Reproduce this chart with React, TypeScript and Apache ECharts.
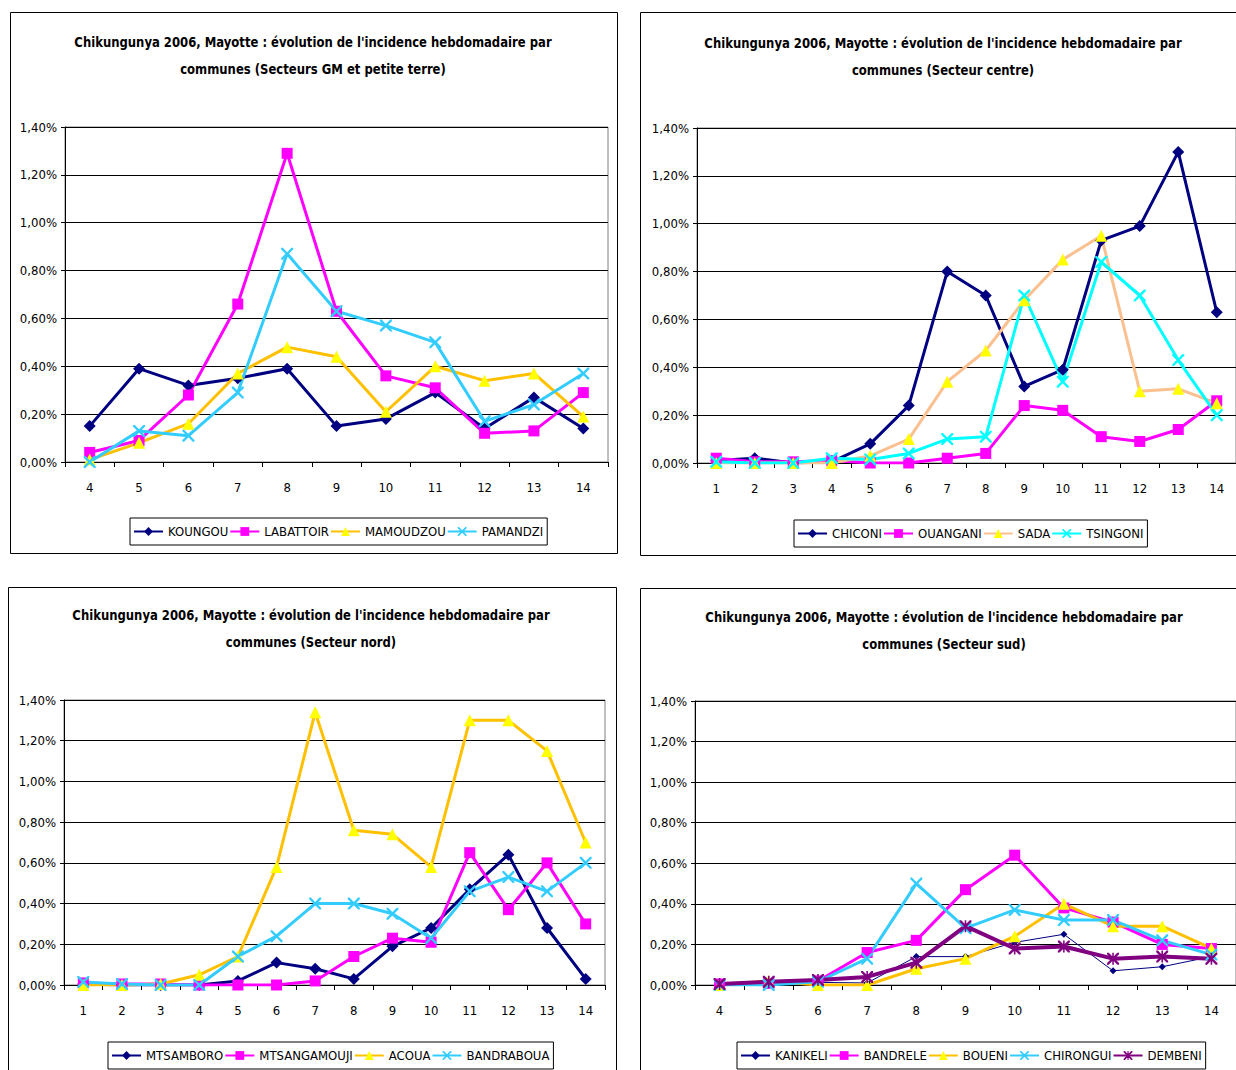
import React, { useEffect, useRef } from 'react';
import * as echarts from 'echarts';

// ---------- categories ----------
const weeksFrom4 = ['4', '5', '6', '7', '8', '9', '10', '11', '12', '13', '14'];
const weeksFrom1 = ['1', '2', '3', '4', '5', '6', '7', '8', '9', '10', '11', '12', '13', '14'];

// ---------- titles ----------
const titleGM = "Chikungunya 2006, Mayotte : évolution de l'incidence hebdomadaire par\ncommunes (Secteurs GM et petite terre)";
const titleCentre = "Chikungunya 2006, Mayotte : évolution de l'incidence hebdomadaire par\ncommunes (Secteur centre)";
const titleNord = "Chikungunya 2006, Mayotte : évolution de l'incidence hebdomadaire par\ncommunes (Secteur nord)";
const titleSud = "Chikungunya 2006, Mayotte : évolution de l'incidence hebdomadaire par\ncommunes (Secteur sud)";

// ---------- values (% incidence) ----------
// Secteurs GM et petite terre (weeks 4-14)
const koungou = [0.15, 0.39, 0.32, 0.35, 0.39, 0.15, 0.18, 0.29, 0.14, 0.27, 0.14];
const labattoir = [0.04, 0.09, 0.28, 0.66, 1.29, 0.63, 0.36, 0.31, 0.12, 0.13, 0.29];
const mamoudzou = [0.01, 0.08, 0.16, 0.37, 0.48, 0.44, 0.21, 0.40, 0.34, 0.37, 0.19];
const pamandzi = [0.0, 0.13, 0.11, 0.29, 0.87, 0.63, 0.57, 0.50, 0.17, 0.24, 0.37];

// Secteur centre (weeks 1-14)
const chiconi = [0.01, 0.02, 0.0, 0.005, 0.08, 0.24, 0.80, 0.70, 0.32, 0.39, 0.93, 0.99, 1.30, 0.63];
const ouangani = [0.02, 0.005, 0.005, 0.01, 0.0, 0.0, 0.02, 0.04, 0.24, 0.22, 0.11, 0.09, 0.14, 0.26];
const sada = [0.0, 0.0, 0.0, 0.0, 0.03, 0.10, 0.34, 0.47, 0.68, 0.85, 0.95, 0.30, 0.31, 0.25];
const tsingoni = [0.005, 0.0, 0.0, 0.02, 0.015, 0.04, 0.10, 0.11, 0.70, 0.34, 0.84, 0.70, 0.43, 0.20];

// Secteur nord (weeks 1-14)
const mtsamboro = [0.005, 0.0, 0.0, 0.0, 0.02, 0.11, 0.08, 0.03, 0.19, 0.28, 0.47, 0.64, 0.28, 0.03];
const mtsangamouji = [0.01, 0.005, 0.005, 0.0, 0.0, 0.0, 0.02, 0.14, 0.23, 0.21, 0.65, 0.37, 0.60, 0.30];
const acoua = [0.0, 0.0, 0.005, 0.05, 0.14, 0.58, 1.34, 0.76, 0.74, 0.58, 1.30, 1.30, 1.15, 0.70];
const bandraboua = [0.015, 0.005, 0.0, 0.0, 0.14, 0.24, 0.40, 0.40, 0.35, 0.23, 0.46, 0.53, 0.46, 0.60];

// Secteur sud (weeks 4-14)
const kanikeli = [0.0, 0.0, 0.013, 0.01, 0.14, 0.14, 0.21, 0.25, 0.07, 0.09, 0.14];
const bandrele = [0.005, 0.008, 0.02, 0.16, 0.22, 0.47, 0.64, 0.38, 0.31, 0.20, 0.18];
const boueni = [0.0, 0.02, 0.0, 0.0, 0.08, 0.13, 0.24, 0.40, 0.29, 0.29, 0.18];
const chirongui = [0.0, 0.0, 0.016, 0.13, 0.50, 0.28, 0.37, 0.32, 0.32, 0.22, 0.15];
const dembeni = [0.005, 0.016, 0.025, 0.04, 0.11, 0.29, 0.18, 0.19, 0.13, 0.14, 0.13];

// ---------- styles ----------
const FONT = "'Liberation Sans Narrow', 'Arial Narrow', 'DejaVu Sans Condensed', 'Liberation Sans', sans-serif";
const NAVY = '#000080';
const MAGENTA = '#FF00FF';
const GOLD = '#FFC000';
const YELLOW = '#FFFF00';
const SKY = '#33CCFF';
const CYAN = '#00FFFF';
const PEACH = '#FAC090';
const PURPLE = '#800080';

const X_SYMBOL = 'path://M0,0L1.4,0L5,3.6L8.6,0L10,0L10,1.4L6.4,5L10,8.6L10,10L8.6,10L5,6.4L1.4,10L0,10L0,8.6L3.6,5L0,1.4Z';
const STAR_SYMBOL = 'path://M0,0L1.4,0L5,3.6L8.6,0L10,0L10,1.4L6.4,5L10,8.6L10,10L8.6,10L5,6.4L1.4,10L0,10L0,8.6L3.6,5L0,1.4ZM4.35,0L5.65,0L5.65,10L4.35,10Z';

type Sty = { line: string; sym: string; symColor: string; size: number; width?: number };
const DIAMOND: Sty = { line: NAVY, sym: 'diamond', symColor: NAVY, size: 12 };
const SQUARE: Sty = { line: MAGENTA, sym: 'rect', symColor: MAGENTA, size: 11 };
const TRI: Sty = { line: GOLD, sym: 'triangle', symColor: YELLOW, size: 12 };
const XSKY: Sty = { line: SKY, sym: X_SYMBOL, symColor: SKY, size: 12 };

function mk(name: string, data: number[], idx: number, s: Sty) {
  return {
    type: 'line',
    name,
    data,
    xAxisIndex: idx,
    yAxisIndex: idx,
    symbol: s.sym,
    symbolSize: s.size,
    showAllSymbol: true,
    lineStyle: { color: s.line, width: s.width ?? 3 },
    itemStyle: { color: s.symColor },
    emphasis: { disabled: true },
  };
}

const grids = [
  { left: 65, top: 127, width: 543, height: 335 },
  { left: 697, top: 128, width: 541, height: 335 },
  { left: 64, top: 700, width: 541, height: 285 },
  { left: 695, top: 701, width: 546, height: 284 },
];

function xAxis(idx: number, cats: string[]) {
  return {
    type: 'category',
    gridIndex: idx,
    data: cats,
    boundaryGap: true,
    axisLine: { lineStyle: { color: '#000', width: 1 } },
    axisTick: { show: true, length: 5, lineStyle: { color: '#000' } },
    axisLabel: { color: '#000', fontFamily: FONT, fontSize: 13, margin: 19 },
    splitLine: { show: false },
  };
}

function yAxis(idx: number) {
  return {
    type: 'value',
    gridIndex: idx,
    min: 0,
    max: 1.4,
    interval: 0.2,
    axisLine: { show: true, lineStyle: { color: '#000', width: 1 } },
    axisTick: { show: true, length: 4, lineStyle: { color: '#000' } },
    axisLabel: {
      color: '#000',
      fontFamily: FONT,
      fontSize: 13,
      margin: 8,
      formatter: (v: number) => v.toFixed(2).replace('.', ',') + '%',
    },
    splitLine: { show: true, lineStyle: { color: '#000', width: 1 } },
  };
}

function legend(names: string[], left: number, top: number) {
  return {
    data: names,
    left,
    top,
    orient: 'horizontal',
    itemGap: 1,
    itemWidth: 29,
    itemHeight: 11,
    padding: [7, 4, 7, 3],
    borderColor: '#000',
    borderWidth: 1,
    borderRadius: 0,
    selectedMode: false,
    textStyle: { color: '#000', fontFamily: FONT, fontSize: 13 },
  };
}

function frame(x: number, y: number, w: number, h: number) {
  return { type: 'rect', shape: { x, y, width: w, height: h }, style: { fill: 'none', stroke: '#000', lineWidth: 1 }, z: 0, silent: true };
}

function title(text: string, x: number, y: number) {
  return {
    type: 'text',
    x,
    y,
    scaleX: 0.925,
    style: {
      text,
      textAlign: 'center',
      textVerticalAlign: 'top',
      font: `bold 14px ${FONT}`,
      lineHeight: 27,
      fill: '#000',
    },
    silent: true,
  };
}

export default function App() {
  const ref = useRef<HTMLDivElement>(null);
  useEffect(() => {
    if (!ref.current) return;
    const chart = echarts.init(ref.current, undefined, { renderer: 'svg' });
    chart.setOption({
      animation: false,
      backgroundColor: '#fff',
      grid: grids.map((g) => ({ ...g, show: true, borderColor: '#808080', borderWidth: 1, backgroundColor: 'transparent' })),
      xAxis: [xAxis(0, weeksFrom4), xAxis(1, weeksFrom1), xAxis(2, weeksFrom1), xAxis(3, weeksFrom4)],
      yAxis: [yAxis(0), yAxis(1), yAxis(2), yAxis(3)],
      legend: [
        legend(['KOUNGOU', 'LABATTOIR', 'MAMOUDZOU', 'PAMANDZI'], 130, 518),
        legend(['CHICONI', 'OUANGANI', 'SADA', 'TSINGONI'], 794, 520),
        legend(['MTSAMBORO', 'MTSANGAMOUJI', 'ACOUA', 'BANDRABOUA'], 108, 1042),
        legend(['KANIKELI', 'BANDRELE', 'BOUENI', 'CHIRONGUI', 'DEMBENI'], 737, 1042),
      ],
      graphic: [
        frame(10.5, 12.5, 607, 541),
        frame(640.5, 12.5, 606, 543),
        frame(8.5, 587.5, 608, 500),
        frame(640.5, 588.5, 606, 500),
        title(titleGM, 313, 28),
        title(titleCentre, 943, 29),
        title(titleNord, 311, 601),
        title(titleSud, 944, 603),
      ],
      series: [
        mk('KOUNGOU', koungou, 0, DIAMOND),
        mk('LABATTOIR', labattoir, 0, SQUARE),
        mk('MAMOUDZOU', mamoudzou, 0, TRI),
        mk('PAMANDZI', pamandzi, 0, XSKY),

        mk('CHICONI', chiconi, 1, DIAMOND),
        mk('OUANGANI', ouangani, 1, SQUARE),
        mk('SADA', sada, 1, { line: PEACH, sym: 'triangle', symColor: YELLOW, size: 12 }),
        mk('TSINGONI', tsingoni, 1, { line: CYAN, sym: X_SYMBOL, symColor: CYAN, size: 12 }),

        mk('MTSAMBORO', mtsamboro, 2, DIAMOND),
        mk('MTSANGAMOUJI', mtsangamouji, 2, SQUARE),
        mk('ACOUA', acoua, 2, TRI),
        mk('BANDRABOUA', bandraboua, 2, XSKY),

        mk('KANIKELI', kanikeli, 3, { line: NAVY, sym: 'diamond', symColor: NAVY, size: 7, width: 1 }),
        mk('BANDRELE', bandrele, 3, SQUARE),
        mk('BOUENI', boueni, 3, TRI),
        mk('CHIRONGUI', chirongui, 3, XSKY),
        mk('DEMBENI', dembeni, 3, { line: PURPLE, sym: STAR_SYMBOL, symColor: PURPLE, size: 12, width: 4 }),
      ],
    });
    return () => chart.dispose();
  }, []);
  return <div ref={ref} style={{ position: 'absolute', left: 0, top: 0, width: 1236, height: 1070 }} />;
}
